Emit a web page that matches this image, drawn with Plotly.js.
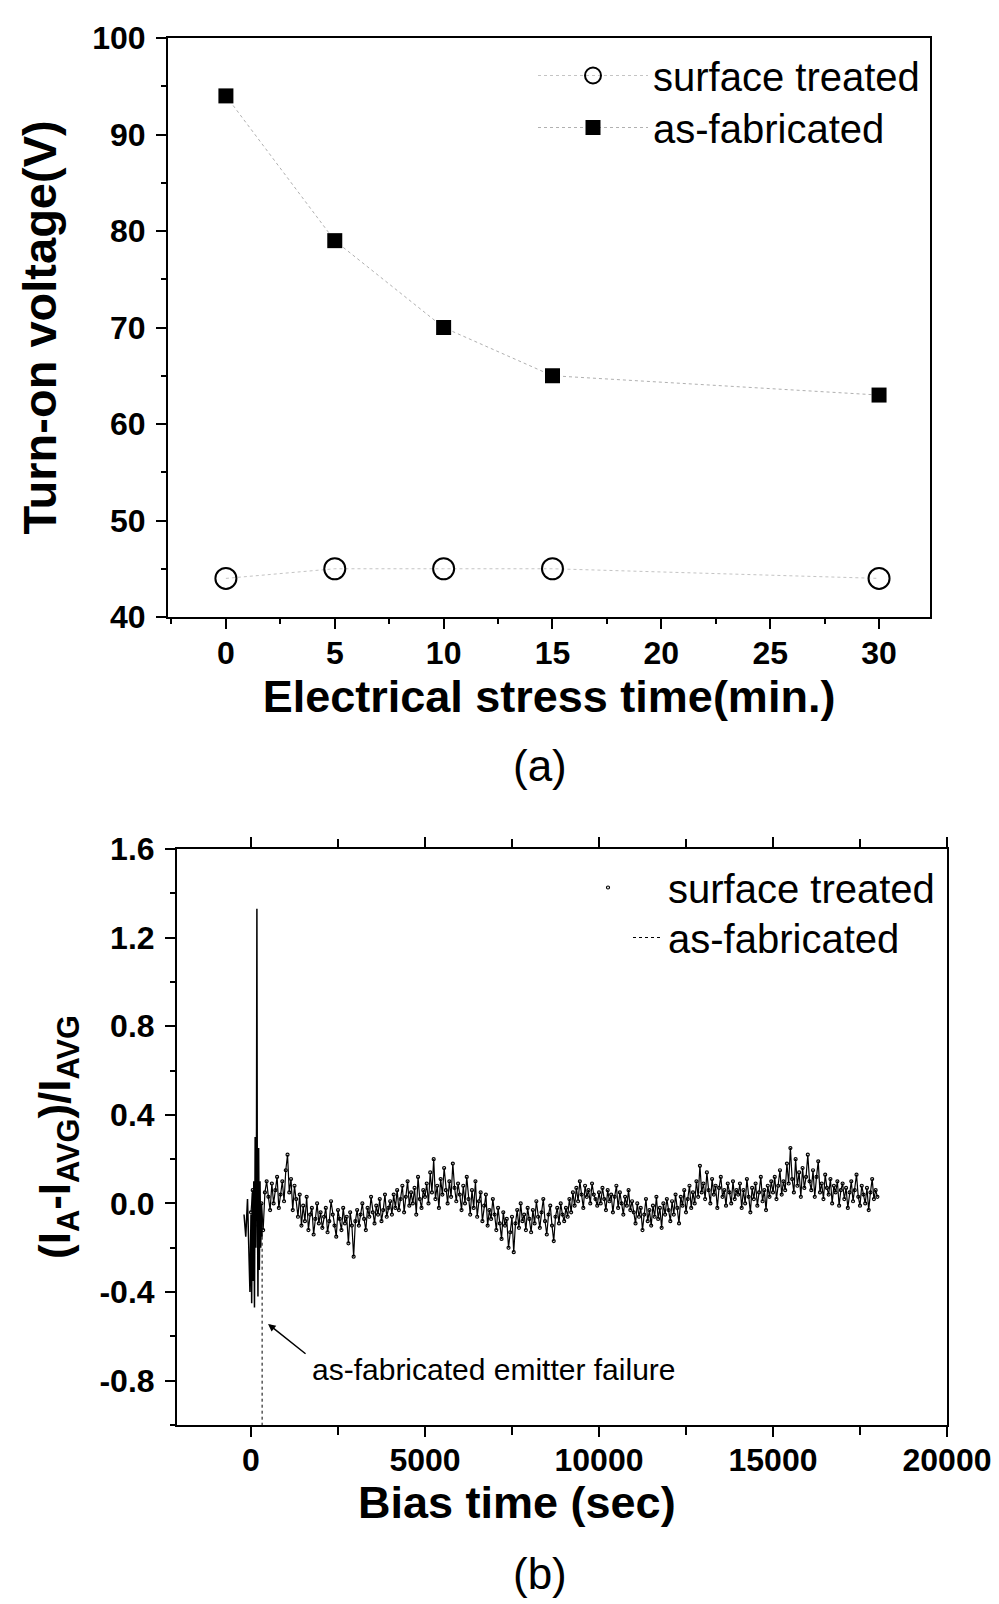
<!DOCTYPE html>
<html>
<head>
<meta charset="utf-8">
<script src="https://cdn.plot.ly/plotly-3.0.1.min.js"></script>
<style>html,body{margin:0;padding:0;background:#fff;}</style>
</head>
<body>
<div id="chart" style="width:999px;height:1604px;"></div>
<script>
// ---------- Panel (a) data ----------
const stressTime = [0, 5, 10, 15, 30];
const surfaceTreatedV = [44, 45, 45, 45, 44];
const asFabricatedV = [94, 79, 70, 65, 63];

// ---------- Panel (b) data ----------
const biasTimeSurface = [
  0,50,100,150,200,250,300,350,400,450,500,550,600,650,700,750,800,850,900,950,
  1000,1050,1100,1150,1200,1250,1300,1350,1400,1450,1500,1550,1600,1650,1700,1750,1800,1850,1900,1950,
  2000,2050,2100,2150,2200,2250,2300,2350,2400,2450,2500,2550,2600,2650,2700,2750,2800,2850,2900,2950,
  3000,3050,3100,3150,3200,3250,3300,3350,3400,3450,3500,3550,3600,3650,3700,3750,3800,3850,3900,3950,
  4000,4050,4100,4150,4200,4250,4300,4350,4400,4450,4500,4550,4600,4650,4700,4750,4800,4850,4900,4950,
  5000,5050,5100,5150,5200,5250,5300,5350,5400,5450,5500,5550,5600,5650,5700,5750,5800,5850,5900,5950,
  6000,6050,6100,6150,6200,6250,6300,6350,6400,6450,6500,6550,6600,6650,6700,6750,6800,6850,6900,6950,
  7000,7050,7100,7150,7200,7250,7300,7350,7400,7450,7500,7550,7600,7650,7700,7750,7800,7850,7900,7950,
  8000,8050,8100,8150,8200,8250,8300,8350,8400,8450,8500,8550,8600,8650,8700,8750,8800,8850,8900,8950,
  9000,9050,9100,9150,9200,9250,9300,9350,9400,9450,9500,9550,9600,9650,9700,9750,9800,9850,9900,9950,
  10000,10050,10100,10150,10200,10250,10300,10350,10400,10450,10500,10550,10600,10650,10700,10750,10800,10850,10900,10950,
  11000,11050,11100,11150,11200,11250,11300,11350,11400,11450,11500,11550,11600,11650,11700,11750,11800,11850,11900,11950,
  12000,12050,12100,12150,12200,12250,12300,12350,12400,12450,12500,12550,12600,12650,12700,12750,12800,12850,12900,12950,
  13000,13050,13100,13150,13200,13250,13300,13350,13400,13450,13500,13550,13600,13650,13700,13750,13800,13850,13900,13950,
  14000,14050,14100,14150,14200,14250,14300,14350,14400,14450,14500,14550,14600,14650,14700,14750,14800,14850,14900,14950,
  15000,15050,15100,15150,15200,15250,15300,15350,15400,15450,15500,15550,15600,15650,15700,15750,15800,15850,15900,15950,
  16000,16050,16100,16150,16200,16250,16300,16350,16400,16450,16500,16550,16600,16650,16700,16750,16800,16850,16900,16950,
  17000,17050,17100,17150,17200,17250,17300,17350,17400,17450,17500,17550,17600,17650,17700,17750,17800,17850,17900,17950,
  18000
];
const surfaceTreatedDev = [
  -0.04,0.06,-0.10,0.02,0.08,-0.05,0.00,-0.12,0.05,0.10,0.03,-0.03,0.09,0.00,0.06,0.12,-0.02,0.04,0.10,0.01,
  0.15,0.22,0.05,0.11,-0.03,0.08,0.02,-0.06,0.04,-0.10,-0.01,-0.08,0.03,-0.12,-0.05,-0.02,-0.14,-0.07,0.00,-0.09,
  -0.04,-0.11,-0.06,-0.02,-0.13,-0.08,0.01,-0.05,-0.10,-0.15,-0.03,-0.07,-0.12,-0.02,-0.09,-0.06,-0.18,-0.04,-0.10,-0.24,
  -0.08,-0.03,-0.10,-0.05,0.00,-0.07,-0.12,-0.02,-0.06,0.03,-0.04,-0.09,-0.01,-0.05,0.02,-0.08,-0.03,0.04,-0.06,-0.02,
  0.01,-0.05,0.04,-0.02,0.06,-0.03,0.02,0.08,-0.04,0.03,0.10,-0.01,0.05,0.00,0.07,-0.05,0.12,0.02,-0.02,0.06,
  0.03,0.09,0.00,0.14,0.05,0.20,0.02,0.08,-0.02,0.11,0.04,0.16,0.06,0.00,0.10,0.03,0.18,0.07,0.01,0.09,
  0.04,-0.03,0.08,0.00,0.12,0.02,-0.05,0.06,-0.02,0.10,-0.06,0.01,0.05,-0.08,-0.01,0.04,-0.10,-0.03,-0.07,0.02,
  -0.05,-0.12,-0.02,-0.09,-0.16,-0.04,-0.10,-0.07,-0.20,-0.13,-0.06,-0.22,-0.09,-0.03,-0.11,0.00,-0.08,-0.05,-0.12,-0.02,
  -0.07,-0.13,-0.03,-0.09,0.01,-0.06,-0.11,-0.04,0.02,-0.08,-0.14,-0.05,-0.01,-0.10,-0.17,-0.06,-0.02,-0.09,0.00,-0.05,
  -0.08,-0.02,-0.06,0.02,-0.04,0.05,-0.01,0.07,0.01,0.10,0.04,-0.02,0.08,0.03,0.06,0.00,0.09,0.04,0.02,-0.01,
  0.05,0.00,0.07,0.02,-0.03,0.06,0.01,0.04,-0.04,0.03,0.08,-0.02,0.05,0.00,-0.05,0.03,-0.01,0.06,-0.03,0.01,
  -0.04,-0.09,0.00,-0.06,-0.02,-0.12,-0.05,0.02,-0.08,-0.03,-0.10,-0.01,-0.06,0.03,-0.07,-0.02,-0.11,0.00,-0.05,0.02,
  -0.03,-0.08,0.01,-0.05,0.04,-0.02,-0.09,0.03,-0.01,0.06,-0.04,0.02,0.08,-0.02,0.05,0.00,0.10,0.03,0.17,0.05,
  0.09,0.02,0.14,0.06,0.00,0.11,0.04,0.08,-0.02,0.07,0.12,0.03,0.06,-0.01,0.09,0.05,0.00,0.10,0.02,0.06,
  0.04,0.09,-0.02,0.06,0.00,0.11,0.03,-0.04,0.07,0.02,0.09,-0.01,0.05,0.12,0.01,0.06,-0.03,0.08,0.03,0.10,
  0.05,0.12,0.02,0.08,0.15,0.04,0.10,0.06,0.18,0.09,0.25,0.11,0.05,0.20,0.08,0.14,0.03,0.16,0.07,0.12,
  0.22,0.10,0.06,0.15,0.03,0.12,0.19,0.05,0.09,0.02,0.13,0.07,0.04,0.11,0.00,0.08,0.05,0.10,-0.01,0.06,
  0.09,0.02,0.07,-0.02,0.05,0.10,0.01,0.06,0.13,0.03,-0.01,0.08,0.04,0.00,0.07,-0.03,0.05,0.11,0.02,0.06,
  0.03
];
const biasTimeAsFab = [-200,-150,-100,-60,-30,0,20,40,60,80,100,120,140,160,170,180,200,220,240,260,280,300,320];
const asFabricatedDev = [-0.05,-0.15,0.02,-0.2,-0.4,-0.05,-0.45,0.05,-0.35,0.1,-0.47,0.3,-0.2,0.35,1.33,0.15,-0.42,0.25,-0.3,0.1,-0.2,0.0,-0.15];
const failureTime = [320, 320];
const failureDev = [-0.15, -1.0];

// ---------- Tick labels ----------
const devTickVals = [-0.8, -0.4, 0.0, 0.4, 0.8, 1.2, 1.6];
const devTickText = ['-0.8', '-0.4', '0.0', '0.4', '0.8', '1.2', '1.6'];

const FONT = 'Liberation Sans, Arial, Helvetica, sans-serif';
const BLACK = '#000000';

const traces = [
  { x: stressTime, y: surfaceTreatedV, name: 'surface treated', type: 'scatter', mode: 'lines+markers',
    xaxis: 'x', yaxis: 'y', legend: 'legend',
    line: { color: '#c4c4c4', width: 1, dash: 'dot' },
    marker: { symbol: 'circle-open', size: 21, color: BLACK, line: { width: 2, color: BLACK } } },
  { x: stressTime, y: asFabricatedV, name: 'as-fabricated', type: 'scatter', mode: 'lines+markers',
    xaxis: 'x', yaxis: 'y', legend: 'legend2',
    line: { color: '#b0b0b0', width: 1, dash: 'dot' },
    marker: { symbol: 'square', size: 15, color: BLACK } },

  { x: biasTimeSurface, y: surfaceTreatedDev, name: 'surface treated line', type: 'scatter', mode: 'lines',
    xaxis: 'x2', yaxis: 'y2', showlegend: false,
    line: { color: BLACK, width: 1.2 } },
  { x: biasTimeSurface, y: surfaceTreatedDev, name: 'surface treated', type: 'scatter', mode: 'markers',
    xaxis: 'x2', yaxis: 'y2', legend: 'legend3',
    marker: { symbol: 'circle-open', size: 3, color: BLACK, line: { width: 1.2, color: BLACK } } },
  { x: biasTimeAsFab, y: asFabricatedDev, name: 'as-fabricated line', type: 'scatter', mode: 'lines',
    xaxis: 'x2', yaxis: 'y2', showlegend: false, legendgroup: 'asfab',
    line: { color: BLACK, width: 1.5 } },
  { x: failureTime, y: failureDev, name: 'as-fabricated', type: 'scatter', mode: 'lines',
    xaxis: 'x2', yaxis: 'y2', legend: 'legend4', legendgroup: 'asfab',
    line: { color: BLACK, width: 1, dash: 'dot' } }
];

const axisCommon = {
  showgrid: false, zeroline: false, showline: true, linecolor: BLACK, linewidth: 2,
  ticks: 'outside', ticklen: 10, tickwidth: 2, tickcolor: BLACK,
  tickfont: { family: FONT, size: 32, color: BLACK, weight: 'bold' },
  automargin: false
};

const legendCommon = {
  xanchor: 'left', yanchor: 'top', bgcolor: 'rgba(0,0,0,0)', borderwidth: 0,
  font: { family: FONT, size: 40, color: BLACK }
};

const layout = {
  width: 999, height: 1604,
  margin: { l: 0, r: 0, t: 0, b: 0 },
  paper_bgcolor: '#ffffff', plot_bgcolor: '#ffffff',
  font: { family: FONT, color: BLACK },
  xaxis: Object.assign({}, axisCommon, {
    domain: [168/999, 930/999], range: [-2.66, 32.34], anchor: 'y',
    tick0: 0, dtick: 5, mirror: true, ticklabelstandoff: -3,
    minor: { dtick: 2.5, ticks: 'outside', ticklen: 5, tickwidth: 2, tickcolor: BLACK },
    title: { text: 'Electrical stress time(min.)', standoff: 1,
             font: { family: FONT, size: 45, color: BLACK, weight: 'bold' } }
  }),
  yaxis: Object.assign({}, axisCommon, {
    domain: [1 - 617/1604, 1 - 38/1604], range: [40, 100], anchor: 'x',
    tick0: 40, dtick: 10, mirror: true, ticklabelstandoff: 4,
    minor: { dtick: 5, ticks: 'outside', ticklen: 5, tickwidth: 2, tickcolor: BLACK },
    title: { text: 'Turn-on voltage(V)', standoff: 21,
             font: { family: FONT, size: 47, color: BLACK, weight: 'bold' } }
  }),
  xaxis2: Object.assign({}, axisCommon, {
    domain: [177/999, 947/999], range: [-2126, 20000], anchor: 'y2',
    tick0: 0, dtick: 5000, tickformat: 'd', mirror: 'ticks', ticklabelstandoff: -4,
    minor: { dtick: 2500, ticks: 'outside', ticklen: 8, tickwidth: 2, tickcolor: BLACK }
  }),
  yaxis2: Object.assign({}, axisCommon, {
    domain: [1 - 1425/1604, 1 - 849/1604], range: [-1.0, 1.6], anchor: 'x2',
    tickmode: 'array', tickvals: devTickVals, ticktext: devTickText,
    mirror: true, ticklabelstandoff: 4,
    minor: { dtick: 0.2, ticks: 'outside', ticklen: 5, tickwidth: 2, tickcolor: BLACK },
    title: { text: '(I<sub>A</sub>-I<sub>AVG</sub>)/I<sub>AVG</sub>', standoff: 15,
             font: { family: FONT, size: 44, color: BLACK, weight: 'bold' } }
  }),
  legend: Object.assign({}, legendCommon, { x: 533/999, y: 1 - 43/1604, itemwidth: 110 }),
  legend2: Object.assign({}, legendCommon, { x: 533/999, y: 1 - 95/1604, itemwidth: 110 }),
  legend3: Object.assign({}, legendCommon, { x: 548/999, y: 1 - 855/1604, itemwidth: 110 }),
  legend4: Object.assign({}, legendCommon, { x: 628/999, y: 1 - 905/1604, itemwidth: 30 }),
  annotations: [
    { xref: 'paper', yref: 'paper', x: 540/999, y: 1 - 765/1604, text: '(a)', showarrow: false,
      xanchor: 'center', yanchor: 'middle', font: { family: FONT, size: 44, color: BLACK } },
    { xref: 'paper', yref: 'paper', x: 540/999, y: 1 - 1573/1604, text: '(b)', showarrow: false,
      xanchor: 'center', yanchor: 'middle', font: { family: FONT, size: 44, color: BLACK } },
    { xref: 'paper', yref: 'paper', x: 517/999, y: 1 - 1502/1604, text: 'Bias time (sec)', showarrow: false,
      xanchor: 'center', yanchor: 'middle', font: { family: FONT, size: 45, color: BLACK, weight: 'bold' } },
    { xref: 'x2', yref: 'y2', x: 1700, y: -0.75, text: 'as-fabricated emitter failure', showarrow: false,
      xanchor: 'left', yanchor: 'middle', font: { family: FONT, size: 30, color: BLACK } },
    { xref: 'x2', yref: 'y2', x: 490, y: -0.544, text: '', showarrow: true,
      ax: 39, ay: 31, arrowhead: 2, arrowsize: 1, arrowwidth: 1.5, arrowcolor: BLACK }
  ]
};

Plotly.newPlot('chart', traces, layout, { displayModeBar: false, staticPlot: true });
</script>
</body>
</html>
